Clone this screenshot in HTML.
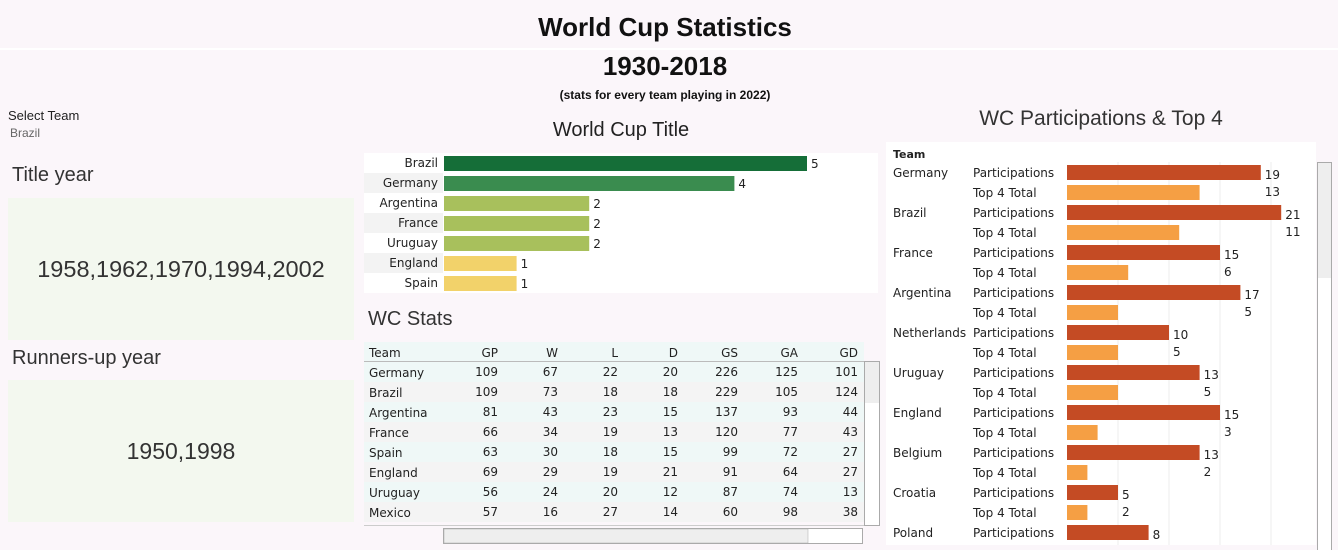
<!DOCTYPE html>
<html><head><meta charset="utf-8">
<style>
body{margin:0;width:1338px;height:550px;background:#fbf6fa;font-family:"DejaVu Sans","Liberation Sans",sans-serif;overflow:hidden;position:relative;color:#222}
.abs{position:absolute}
.t{font-family:"Liberation Sans",sans-serif}
</style></head><body>
<div class="abs" style="left:0;top:48px;width:1338px;height:2px;background:#fff"></div>
<div class="abs t" style="left:0;width:1330px;top:12px;text-align:center;font-size:26px;font-weight:bold;color:#111">World Cup Statistics</div>
<div class="abs t" style="left:0;width:1330px;top:51px;text-align:center;font-size:26px;font-weight:bold;color:#111">1930-2018</div>
<div class="abs t" style="left:0;width:1330px;top:88px;text-align:center;font-size:12px;font-weight:bold;color:#111">(stats for every team playing in 2022)</div>

<div class="abs t" style="left:8px;top:108px;font-size:13px">Select Team</div>
<div class="abs t" style="left:10px;top:126px;font-size:12px;color:#666">Brazil</div>

<div class="abs t" style="left:12px;top:164px;font-size:20px;color:#333">Title year</div>
<div class="abs t" style="left:8px;top:198px;width:346px;height:142px;background:#f3f8ef;display:flex;align-items:center;justify-content:center;font-size:23.5px;color:#333">1958,1962,1970,1994,2002</div>
<div class="abs t" style="left:12px;top:347px;font-size:20px;color:#333">Runners-up year</div>
<div class="abs t" style="left:8px;top:380px;width:346px;height:142px;background:#f3f8ef;display:flex;align-items:center;justify-content:center;font-size:23px;color:#333">1950,1998</div>

<div class="abs t" style="left:364px;width:514px;top:119px;text-align:center;font-size:20px;color:#222">World Cup Title</div>
<svg class="abs" style="left:0;top:0" width="1338" height="550" id="svg"></svg>

<div class="abs t" style="left:368px;top:308px;font-size:20px;color:#333">WC Stats</div>
<div class="abs t" style="left:886px;width:430px;top:107px;text-align:center;font-size:21px;color:#333">WC Participations &amp; Top 4</div>

<script>
const titleTeams=["Brazil","Germany","Argentina","France","Uruguay","England","Spain"];
const titleCounts=[5,4,2,2,2,1,1];
const tblCols=["GP","W","L","D","GS","GA","GD"];
const tblTeams=["Germany","Brazil","Argentina","France","Spain","England","Uruguay","Mexico"];
const tblGP=[109,109,81,66,63,69,56,57];
const tblW=[67,73,43,34,30,29,24,16];
const tblL=[22,18,23,19,18,19,20,27];
const tblD=[20,18,15,13,15,21,12,14];
const tblGS=[226,229,137,120,99,91,87,60];
const tblGA=[125,105,93,77,72,64,74,98];
const tblGD=[101,124,44,43,27,27,13,38];
const partTeams=["Germany","Brazil","France","Argentina","Netherlands","Uruguay","England","Belgium","Croatia","Poland"];
const partValues=[19,21,15,17,10,13,15,13,5,8];
const top4Values=[13,11,6,5,5,5,3,2,2,2];

const NS="http://www.w3.org/2000/svg";
const svg=document.getElementById('svg');
function mk(tag,attrs,parent){const e=document.createElementNS(NS,tag);for(const k in attrs)e.setAttribute(k,attrs[k]);(parent||svg).appendChild(e);return e;}
function tx(str,attrs){const e=mk('text',Object.assign({'font-family':'DejaVu Sans, Liberation Sans, sans-serif','font-size':12,fill:'#222'},attrs));e.textContent=str;return e;}

// World Cup Title chart
mk('rect',{x:364,y:153,width:514,height:140,fill:'#fff'});
const tX=v=>444+v*72.6, tY=i=>163+i*20;
const tCol=v=>v>=5?'#156e38':v>=4?'#3a8c4f':v>=2?'#a8c05c':'#f2d26a';
titleTeams.forEach((t,i)=>{
  const bg=mk('rect',{x:364,y:tY(i)-10,width:79,height:20,fill:i%2?'#f3f3f3':'#fff'});
  
  
  const lb=tx(t,{x:438,y:tY(i)+4,'text-anchor':'end'});
  
  
  const b=mk('rect',{x:tX(0),y:tY(i)-7,width:tX(titleCounts[i])-tX(0),height:15,fill:tCol(titleCounts[i])});
  
  
  const v=tx(String(titleCounts[i]),{x:tX(titleCounts[i])+4,y:tY(i)+5});
  
  
});

// WC Stats table
const cols=[tblGP,tblW,tblL,tblD,tblGS,tblGA,tblGD];
const colX=c=>498+c*60;
const rY=i=>372+i*20;
mk('rect',{x:364,y:342,width:500,height:20,fill:'#eff8f7'});
mk('line',{x1:364,y1:361.5,x2:864,y2:361.5,stroke:'#bbb'});
const th=tx('Team',{x:369,y:357});


tblCols.forEach((c,j)=>{const h=tx(c,{x:colX(j),y:357,'text-anchor':'end'});
  
  });
tblTeams.forEach((t,i)=>{
  const r=mk('rect',{x:364,y:rY(i)-10,width:500,height:20,fill:i%2?'#f4f4f4':'#eff8f7'});
  
  
  const n=tx(t,{x:369,y:rY(i)+5});
  
  
  cols.forEach((arr,j)=>{const c=tx(String(arr[i]),{x:colX(j),y:rY(i)+4,'text-anchor':'end'});
    
    });
});
mk('line',{x1:364,y1:525.5,x2:864,y2:525.5,stroke:'#ccc'});
const vs=mk('rect',{x:864.5,y:361.5,width:15,height:164,fill:'#fff',stroke:'#aaa'});


mk('rect',{x:865,y:362,width:14,height:41,fill:'#eee'});
const hs=mk('rect',{x:443.5,y:528.5,width:419,height:15,fill:'#fff',stroke:'#aaa'});


mk('rect',{x:444,y:529,width:364,height:14,fill:'#eee',stroke:'#aaa','stroke-width':0.5});

// Participations chart
mk('rect',{x:886,y:142,width:430,height:403,fill:'#fff'});
const pX=v=>1067+v*10.2, pY=k=>172+k*20;
[5,10,15,20].forEach(g=>mk('line',{x1:pX(g),y1:162,x2:pX(g),y2:545,stroke:'#eee'}));
const hd=tx('Team',{x:893,y:158,'font-weight':'bold','font-size':11});


partTeams.forEach((t,i)=>{
  const y1=pY(2*i), y2=pY(2*i+1);
  const n=tx(t,{x:893,y:y1+5});
  
  
  const m1=tx('Participations',{x:973,y:y1+5});
  
  
  const b1=mk('rect',{x:pX(0),y:y1-7,width:pX(partValues[i])-pX(0),height:15,fill:'#c44b24'});
  
  
  const v1=tx(String(partValues[i]),{x:pX(partValues[i])+4,y:y1+7});
  
  
  if(y2<560){
    const m2=tx('Top 4  Total',{x:973,y:y2+5});
    
    
    const b2=mk('rect',{x:pX(0),y:y2-7,width:pX(top4Values[i])-pX(0),height:15,fill:'#f59f44'});
    
    
    const v2=tx(String(top4Values[i]),{x:pX(partValues[i])+4,y:y2+4});
    
    
  }
});
mk('rect',{x:886,y:545,width:452,height:5,fill:'#fbf6fa'});
const ps=mk('rect',{x:1317.5,y:162.5,width:14,height:390,fill:'#fff',stroke:'#aaa'});


mk('rect',{x:1318,y:163,width:13,height:115,fill:'#eee'});
</script>
</body></html>
